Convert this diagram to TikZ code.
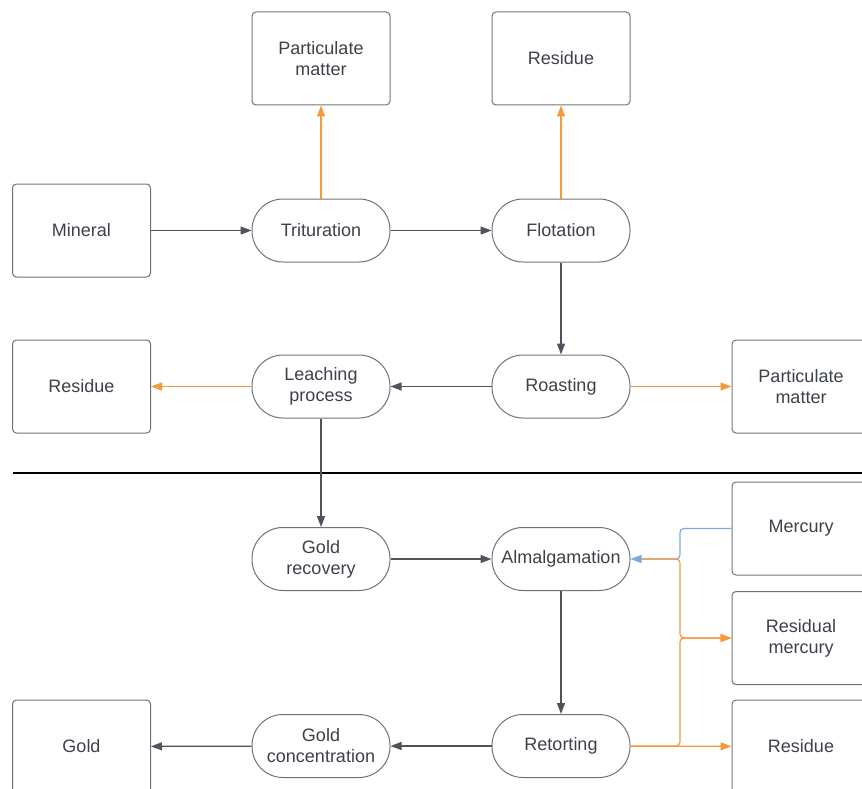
\documentclass[tikz,border=0pt]{standalone}
\usepackage{fontspec}
\setmainfont{Liberation Sans}
\usetikzlibrary{arrows.meta}
\definecolor{ink}{HTML}{3B4049}
\definecolor{edge}{HTML}{6E737B}
\definecolor{flowor}{HTML}{F7993B}
\definecolor{flowbl}{HTML}{7CA9E2}
\begin{document}
\begin{tikzpicture}[x=1pt, y=-1pt,
    every node/.style={font=\fontsize{18}{21}\selectfont, text=ink, align=center},
    matbox/.style={draw=edge, line width=1pt, rounded corners=4pt, minimum width=138pt, minimum height=93pt},
    procbox/.style={draw=edge, line width=1pt, rounded corners=31pt, minimum width=138pt, minimum height=63pt},
    main/.style={draw=ink!90, line width=1.2pt, -{Triangle[length=11pt,width=8pt]}},
    waste/.style={draw=flowor, line width=1.2pt, -{Triangle[length=11pt,width=8pt]}},
    feed/.style={draw=flowbl, line width=1.2pt, -{Triangle[length=11pt,width=8pt]}}]

        \clip (0,0) rectangle (862,789);

        % top half
        \node[matbox] (pmtop) at (321,58.5) {Particulate\\matter};
        \node[matbox] (restop) at (561,58.5) {Residue};
        \node[matbox] (mineral) at (81.5,230.5) {Mineral};
        \node[procbox] (trit) at (321,230.5) {Trituration};
        \node[procbox] (flot) at (561,230.5) {Flotation};
        \node[matbox] (resleft) at (81.5,386.5) {Residue};
        \node[procbox] (leach) at (321,386.5) {Leaching\\process};
        \node[procbox] (roast) at (561,386.5) {Roasting};
        \node[matbox] (pmright) at (801,386.5) {Particulate\\matter};

        \draw[main] (mineral) -- (trit);
        \draw[main] (trit) -- (flot);
        \draw[main] (flot) -- (roast);
        \draw[main] (roast) -- (leach);
        \draw[waste] (trit) -- (pmtop);
        \draw[waste] (flot) -- (restop);
        \draw[waste] (leach) -- (resleft);
        \draw[waste] (roast) -- (pmright);

        % divider
        \coordinate (divl) at (13,473);
        \coordinate (divr) at (862,473);
        \draw[line width=1.2pt, black] (divl) -- (divr);

        % bottom half
        \node[procbox] (grec) at (321,559) {Gold\\recovery};
        \node[procbox] (amal) at (561,559) {Almalgamation};
        \node[matbox] (merc) at (801,528.5) {Mercury};
        \node[matbox] (resmerc) at (801,638) {Residual\\mercury};
        \node[matbox] (gold) at (81.5,746.5) {Gold};
        \node[procbox] (gconc) at (321,746) {Gold\\concentration};
        \node[procbox] (retort) at (561,746) {Retorting};
        \node[matbox] (resbot) at (801,746.5) {Residue};

        \draw[main] (leach) -- (grec);
        \draw[main] (grec) -- (amal);
        \draw[main] (amal) -- (retort);
        \draw[main] (retort) -- (gconc);
        \draw[main] (gconc) -- (gold);

        \draw[feed, rounded corners=4pt] (merc.west) -| (680,559) -- (amal.east);
        \draw[waste, rounded corners=4pt, shorten <=11pt] (amal.east) -| (680,638) -- (resmerc.west);
        \draw[waste, rounded corners=4pt] (retort.east) -| (680,638) -- (resmerc.west);
        \draw[waste] (retort) -- (resbot);
    \end{tikzpicture}
\end{document}
